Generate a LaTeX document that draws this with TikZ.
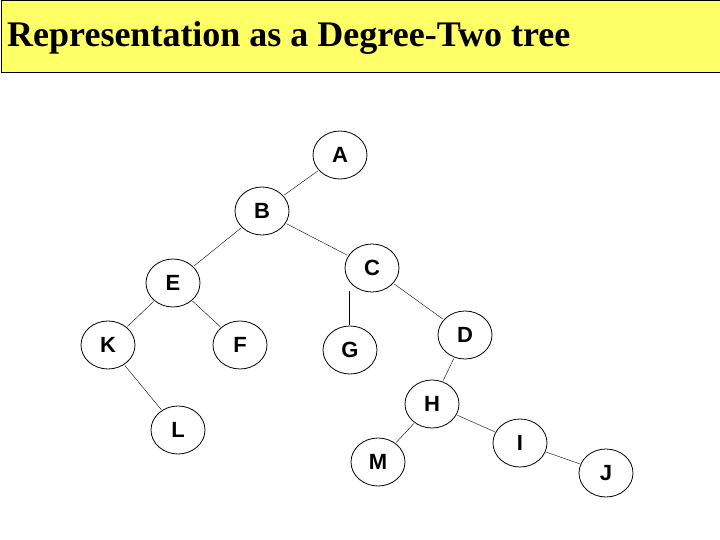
\documentclass[tikz,border=0pt]{standalone}
\usepackage{fontspec}
\setmainfont{Liberation Serif}
\newfontfamily\lab{Liberation Sans}
\usetikzlibrary{shapes.geometric}
\begin{document}
\begin{tikzpicture}[x=1pt,y=-1pt,
  tn/.style={draw,thick,ellipse,minimum width=54pt,minimum height=48pt,inner sep=0pt,font=\lab\bfseries\fontsize{22}{22}\selectfont},
  ed/.style={draw,thin,shorten <=1pt,shorten >=1pt}]
\useasboundingbox (0,0) rectangle (720,540);
\fill[white] (0,0) rectangle (720,540);
\node[draw,fill={rgb,255:red,255;green,255;blue,102},minimum width=719pt,minimum height=72pt,anchor=north west,inner sep=0pt] (title) at (0.5,0.5) {};
\node[anchor=west,inner sep=0pt,font=\bfseries\fontsize{36}{36}\selectfont] (tt) at (7,38) {Representation as a Degree-Two tree};
\node[tn] (A) at (340,155) {A};
\node[tn] (B) at (262,211) {B};
\node[tn] (C) at (372,268) {C};
\node[tn] (E) at (173,283) {E};
\node[tn] (D) at (465,335) {D};
\node[tn] (K) at (108,345) {K};
\node[tn] (F) at (240,345) {F};
\node[tn] (G) at (350,350) {G};
\node[tn] (H) at (432,404) {H};
\node[tn] (L) at (178,430) {L};
\node[tn] (I) at (520,443) {I};
\node[tn] (M) at (378,462) {M};
\node[tn] (J) at (606,473) {J};
\coordinate (cg) at (349,290);
\draw[ed] (A)--(B);
\draw[ed] (B)--(E);
\draw[ed] (B)--(C);
\draw[ed] (E)--(K);
\draw[ed] (E)--(F);
\draw[ed] (K)--(L);
\draw[ed] (cg)--(cg|-G.north);
\draw[ed] (C)--(D);
\draw[ed] (D)--(H);
\draw[ed] (H)--(M);
\draw[ed] (H)--(I);
\draw[ed] (I)--(J);
\end{tikzpicture}
\end{document}
